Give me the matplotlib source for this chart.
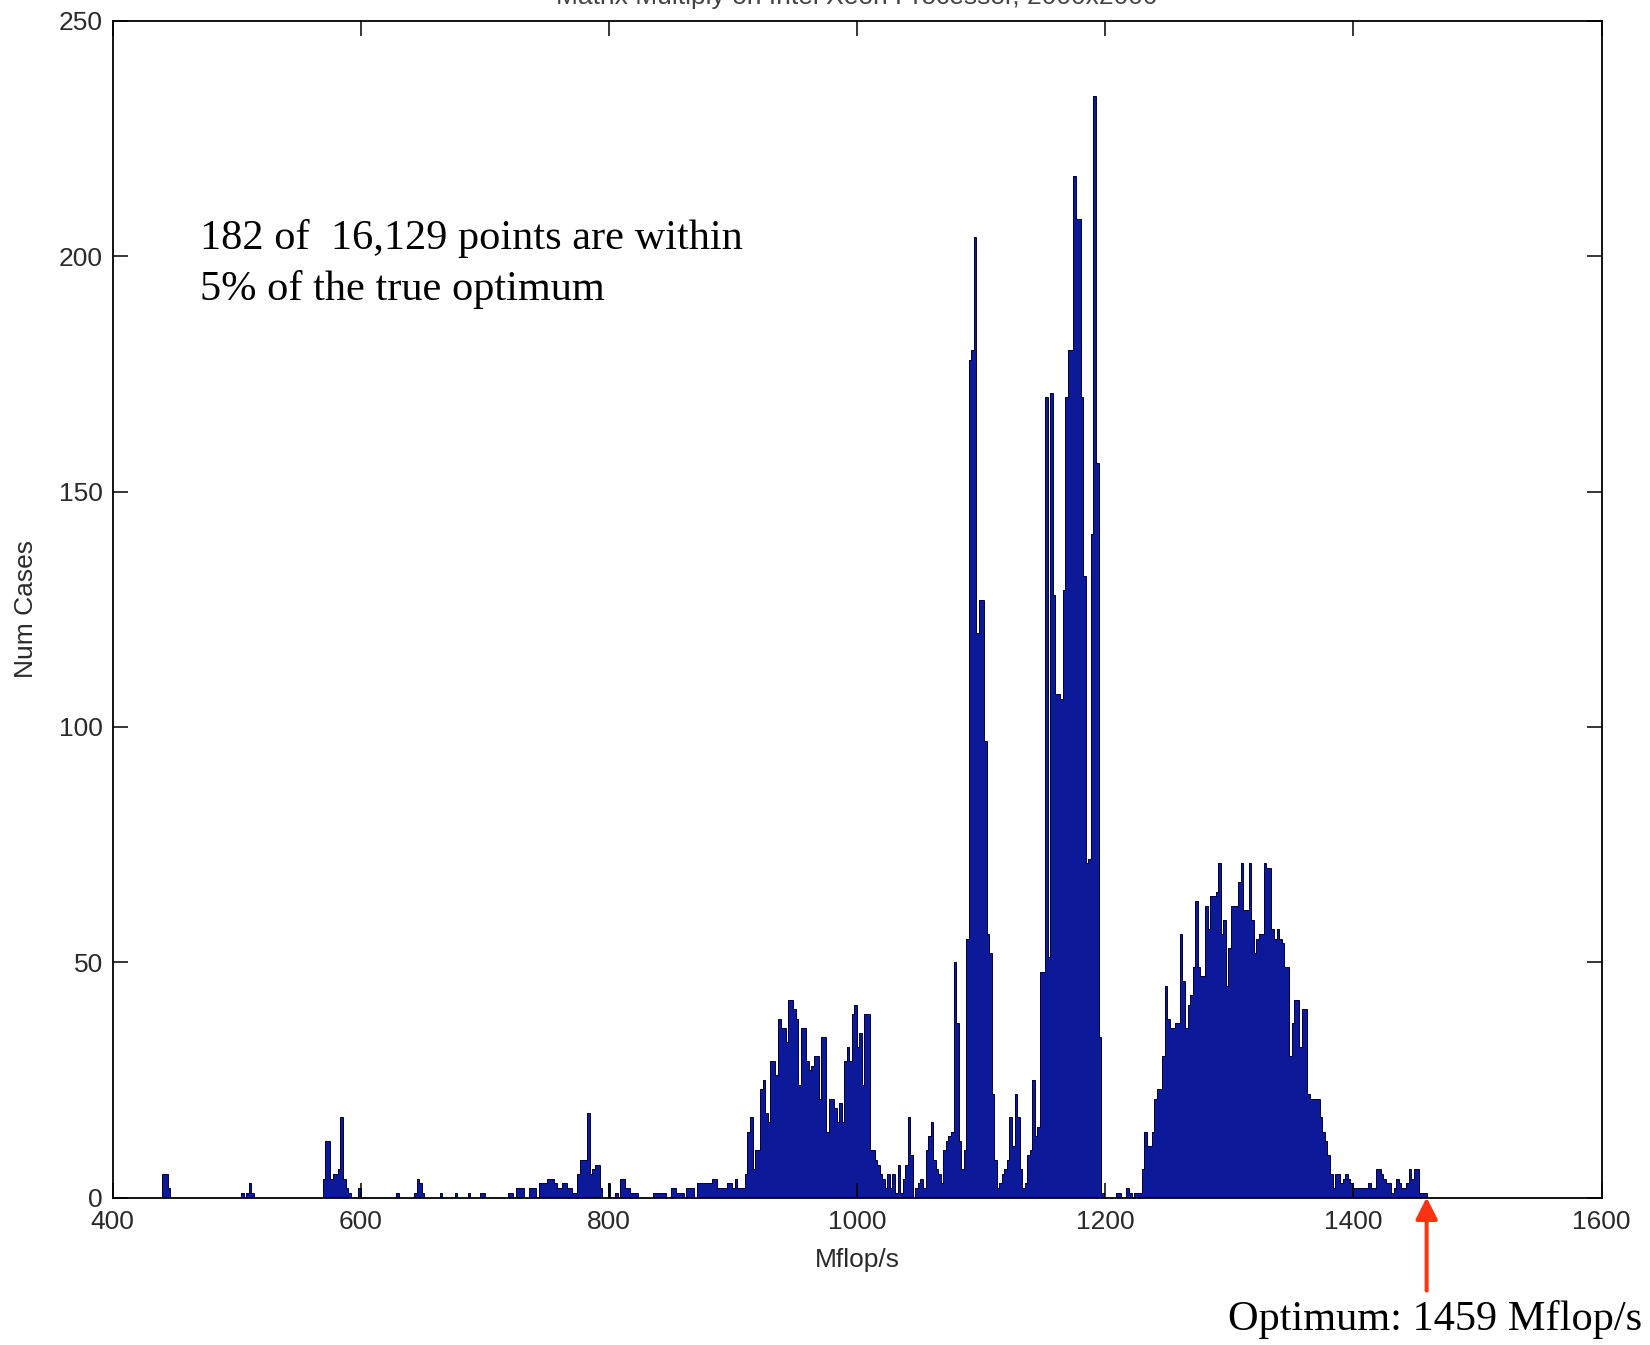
import matplotlib
matplotlib.use("Agg")
import matplotlib.pyplot as plt
import numpy as np

# ---------------- data ----------------
title = "Matrix Multiply on Intel Xeon Processor, 2000x2000"
x_label = "Mflop/s"
y_label = "Num Cases"
note_line1 = "182 of  16,129 points are within"
note_line2 = "5% of the true optimum"
optimum = 1459

bin_start = 434.0
bin_width = 2.05

counts = [
    0, 0, 0, 5, 5, 2, 0, 0, 0, 0, 0, 0, 0, 0, 0, 0, 0, 0, 0, 0,            # 0-19
    0, 0, 0, 0, 0, 0, 0, 0, 0, 0, 0, 0, 0, 0, 1, 0, 1, 3, 1, 0,            # 20-39
    0, 0, 0, 0, 0, 0, 0, 0, 0, 0, 0, 0, 0, 0, 0, 0, 0, 0, 0, 0,            # 40-59
    0, 0, 0, 0, 0, 0, 4, 12, 12, 4, 5, 5, 6, 17, 4, 2, 1, 0, 0, 0,         # 60-79
    2, 0, 0, 0, 0, 0, 0, 0, 0, 0, 0, 0, 0, 0, 0, 1, 0, 0, 0, 0,            # 80-99
    0, 0, 1, 4, 3, 1, 0, 0, 0, 0, 0, 0, 1, 0, 0, 0, 0, 0, 1, 0,            # 100-119
    0, 0, 0, 1, 0, 0, 0, 0, 1, 1, 0, 0, 0, 0, 0, 0, 0, 0, 0, 1,            # 120-139
    1, 0, 2, 2, 2, 0, 0, 2, 2, 2, 0, 3, 3, 3, 4, 4, 4, 3, 2, 2,            # 140-159
    3, 3, 2, 2, 1, 1, 5, 8, 8, 8, 18, 5, 6, 7, 7, 2, 0, 0, 3, 0,           # 160-179
    0, 1, 0, 4, 4, 2, 2, 1, 1, 1, 0, 0, 0, 0, 0, 0, 1, 1, 1, 1,            # 180-199
    1, 0, 0, 2, 2, 1, 1, 1, 0, 2, 2, 2, 0, 3, 3, 3, 3, 3, 3, 4,            # 200-219
    4, 2, 2, 2, 2, 3, 3, 2, 4, 2, 2, 2, 5, 14, 17, 6, 10, 10, 23, 25,      # 220-239
    18, 16, 29, 29, 26, 38, 36, 36, 33, 42, 42, 40, 38, 24, 36, 36, 29, 27, 28, 30,   # 240-259
    30, 21, 34, 34, 14, 21, 21, 19, 16, 20, 16, 29, 32, 29, 39, 41, 32, 35, 24, 39,   # 260-279
    39, 10, 10, 8, 7, 5, 4, 2, 5, 2, 5, 1, 7, 1, 4, 7, 17, 9, 0, 2,        # 280-299
    3, 4, 2, 10, 13, 16, 8, 6, 5, 3, 10, 12, 13, 14, 50, 37, 12, 6, 10, 55,           # 300-319
    178, 180, 204, 120, 127, 127, 97, 56, 52, 22, 8, 2, 3, 5, 6, 8, 17, 11, 22, 17,   # 320-339
    6, 2, 3, 9, 10, 25, 13, 15, 48, 48, 170, 51, 171, 128, 107, 107, 106, 129, 170, 180,  # 340-359
    180, 217, 208, 208, 170, 132, 71, 72, 141, 234, 156, 34, 1, 0, 0, 0, 0, 0, 1, 1,  # 360-379
    0, 0, 2, 1, 0, 1, 1, 1, 6, 14, 11, 11, 14, 21, 23, 23, 30, 45, 38, 36,            # 380-399
    36, 37, 37, 56, 46, 36, 41, 43, 49, 63, 49, 47, 47, 62, 57, 64, 64, 65, 71, 56,   # 400-419
    59, 45, 53, 62, 62, 62, 67, 71, 61, 61, 71, 59, 52, 55, 56, 56, 71, 70, 70, 57,   # 420-439
    55, 57, 55, 54, 49, 49, 30, 37, 42, 42, 32, 40, 40, 22, 21, 21, 21, 21, 17, 14,   # 440-459
    12, 9, 5, 2, 5, 5, 3, 4, 5, 4, 3, 2, 2, 2, 2, 2, 2, 3, 2, 2,           # 460-479
    6, 6, 5, 4, 3, 3, 1, 2, 4, 3, 2, 2, 3, 6, 4, 6, 6, 1, 1, 1,            # 480-499
]

x_ticks = [400, 600, 800, 1000, 1200, 1400, 1600]
y_ticks = [0, 50, 100, 150, 200, 250]

# ---------------- style ----------------
BAR_BLUE = "#0c1a9a"
EDGE = "#00003a"
ARROW_RED = "#ff3311"
LABEL_GRAY = "#2a2a2a"
SANS = ["Liberation Sans", "DejaVu Sans"]
SERIF = ["Liberation Serif", "DejaVu Serif"]

W, H = 1650, 1345
fig = plt.figure(figsize=(W / 100, H / 100), dpi=100)
fig.patch.set_facecolor("white")

ax_left, ax_right, ax_top, ax_bottom = 112.6, 1601.6, 21.0, 1197.5
ax = fig.add_axes([ax_left / W, (H - ax_bottom) / H,
                   (ax_right - ax_left) / W, (ax_bottom - ax_top) / H])

edges = bin_start + bin_width * np.arange(len(counts) + 1)
ax.stairs(counts, edges, fill=True, color=BAR_BLUE, linewidth=0)
ax.stairs(counts, edges, fill=False, color=EDGE, linewidth=0.7, baseline=0)

ax.set_xlim(x_ticks[0], x_ticks[-1])
ax.set_ylim(y_ticks[0], y_ticks[-1])
ax.set_xticks(x_ticks)
ax.set_yticks(y_ticks)
ax.tick_params(direction="in", length=11, width=1.1, top=True, right=True,
               labelsize=19, color="black", labelcolor=LABEL_GRAY)
ax.tick_params(axis="x", pad=9)
ax.tick_params(axis="y", pad=7)
for lab in ax.get_xticklabels() + ax.get_yticklabels():
    lab.set_family(SANS)
for sp in ax.spines.values():
    sp.set_linewidth(1.3)
    sp.set_color("black")

ax.set_xlabel(x_label, fontsize=19, family=SANS, color=LABEL_GRAY)
ax.xaxis.label.set_va("center")
ax.xaxis.set_label_coords(0.5, (ax_bottom - 1260) / (ax_bottom - ax_top))
ax.set_ylabel(y_label, fontsize=19, family=SANS, color=LABEL_GRAY)
ax.yaxis.label.set_va("center")
ax.yaxis.set_label_coords((26 - ax_left) / (ax_right - ax_left), 0.5)

# title, mostly cut off at the top of the picture as in the original
fig.text(857 / W, 1 - 4 / H, title, ha="center", va="baseline",
         fontsize=19, family=SANS, color="#444444")

# annotation text
fig.text(200 / W, 1 - 249 / H, note_line1, ha="left", va="baseline",
         fontsize=30.5, family=SERIF, color="black")
fig.text(200 / W, 1 - 300 / H, note_line2, ha="left", va="baseline",
         fontsize=30.5, family=SERIF, color="black")

# arrow to the optimum
ax.annotate("", xy=(optimum, 0), xytext=(0, -67), textcoords="offset points",
            annotation_clip=False,
            arrowprops=dict(arrowstyle="-|>,head_length=0.65,head_width=0.33",
                            mutation_scale=20, lw=2.9, color=ARROW_RED,
                            shrinkA=0, shrinkB=0))
fig.text(1228 / W, 1 - 1330 / H, f"Optimum: {optimum} Mflop/s", ha="left",
         va="baseline", fontsize=30.5, family=SERIF, color="black")

fig.savefig("out.png", dpi=100, facecolor="white")
